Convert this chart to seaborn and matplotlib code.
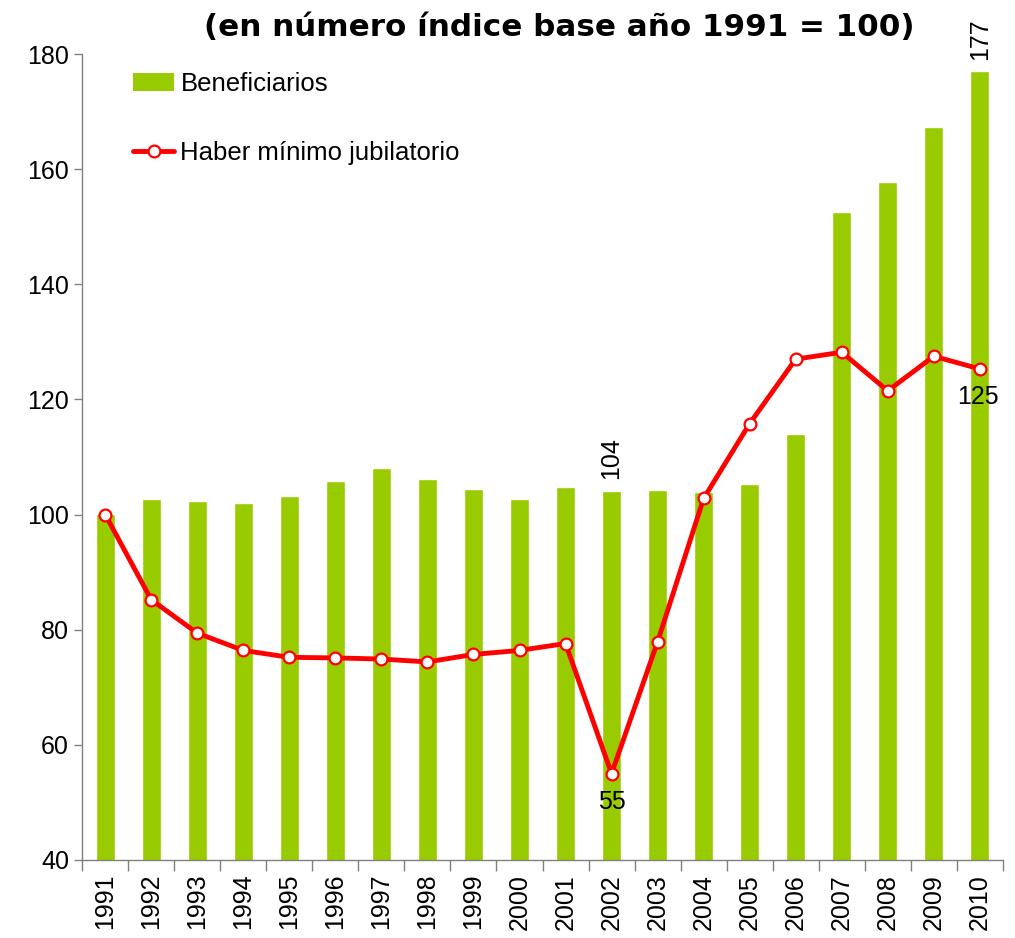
import numpy as np
import seaborn as sns
import matplotlib.pyplot as plt
from matplotlib.patches import Patch
from matplotlib.lines import Line2D
from matplotlib.ticker import FixedLocator

years = [str(y) for y in range(1991, 2011)]
beneficiarios = [100.1, 102.7, 102.4, 102.0, 103.2, 105.8, 108.1, 106.2, 104.4, 102.7,
                 104.8, 104.1, 104.3, 103.9, 105.3, 114.0, 152.6, 157.8, 167.4, 177.0]
haber_minimo = [100.0, 85.2, 79.4, 76.4, 75.2, 75.1, 74.9, 74.4, 75.7, 76.4,
                77.6, 55.0, 77.9, 102.8, 115.8, 127.0, 128.2, 121.5, 127.5, 125.3]

GREEN = "#99cc00"
RED = "#ff0000"

sns.set_theme(style="white")
plt.rcParams['font.family'] = ['Liberation Sans', 'DejaVu Sans']
plt.rcParams['text.color'] = 'black'
plt.rcParams['xtick.labelcolor'] = 'black'
plt.rcParams['ytick.labelcolor'] = 'black'

fig = plt.figure(figsize=(10.15, 9.38), dpi=100)
ax = fig.add_axes([0.081, 0.0832, 0.907, 0.8592])

sns.barplot(x=years, y=beneficiarios, color=GREEN, saturation=1, width=0.41, ax=ax)
sns.pointplot(x=years, y=haber_minimo, color=RED, errorbar=None, markers="o",
              linewidth=3.5, markersize=8.5, markerfacecolor="white",
              markeredgecolor=RED, markeredgewidth=1.6, ax=ax)

ax.set_ylim(40, 180)
ax.set_xlim(-0.5, len(years) - 0.5)
ax.set_yticks(range(40, 181, 20))
ax.tick_params(axis="y", labelsize=18, length=6, width=1, direction="out", left=True, color="#808080")
ax.tick_params(axis="x", which="major", labelsize=18, length=0, rotation=90, pad=10)
ax.xaxis.set_minor_locator(FixedLocator(np.arange(-0.5, len(years), 1)))
ax.tick_params(axis="x", which="minor", length=8, width=1, direction="out", bottom=True, color="#808080")
for side in ("top", "right"):
    ax.spines[side].set_visible(False)
for side in ("left", "bottom"):
    ax.spines[side].set_color("#808080")
    ax.spines[side].set_linewidth(1)
ax.set_xlabel("")
ax.set_ylabel("")

# value labels
i02 = years.index("2002")
i10 = years.index("2010")
ax.text(i02, beneficiarios[i02] + 2, "104", rotation=90, ha="center", va="bottom", fontsize=18)
ax.text(i10, beneficiarios[i10] + 2, "177", rotation=90, ha="center", va="bottom", fontsize=18)
ax.text(i02, haber_minimo[i02] - 2.8, "55", ha="center", va="top", fontsize=18)
ax.text(i10 - 0.05, haber_minimo[i10] - 2.8, "125", ha="center", va="top", fontsize=18)

handles = [Patch(facecolor=GREEN, edgecolor="none"),
           Line2D([], [], color=RED, lw=3.5, marker="o", markersize=8.5,
                  markerfacecolor="white", markeredgecolor=RED, markeredgewidth=1.6)]
ax.legend(handles, ["Beneficiarios", "Haber mínimo jubilatorio"], loc="upper left",
          bbox_to_anchor=(0.03, 1.006), frameon=False, fontsize=18.5,
          labelspacing=1.75, handlelength=1.6, handletextpad=0.25)

fig.text(0.551, 1 - 27 / 938, "(en número índice base año 1991 = 100)",
         ha="center", va="center", fontsize=22.3, fontweight="bold", family="DejaVu Sans")

fig.savefig("out.png", dpi=100)
